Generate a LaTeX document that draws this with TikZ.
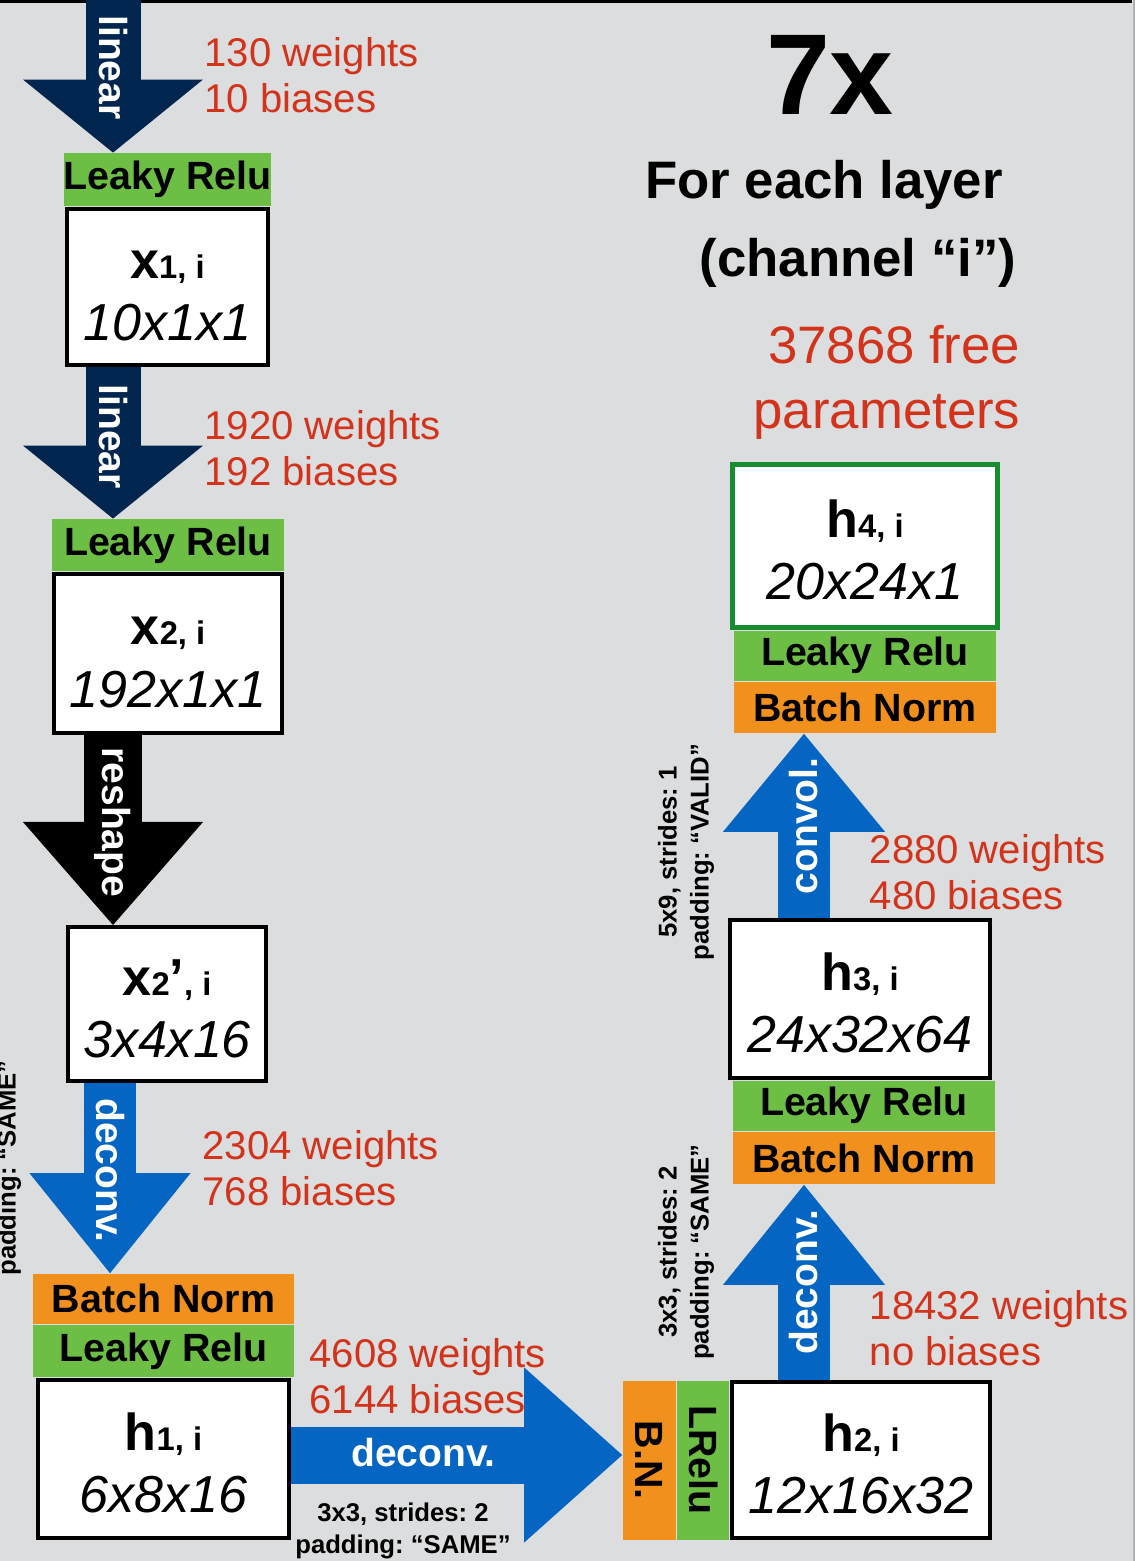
\documentclass[tikz,border=0pt]{standalone}
\usepackage{fontspec}
\setmainfont{Liberation Sans}
\usetikzlibrary{positioning,calc,arrows.meta}

\newdimen\pix \pix=0.01cm
\definecolor{bggray}{HTML}{DCDDDF}
\definecolor{lrgreen}{HTML}{6DBE45}
\definecolor{bnorange}{HTML}{F2901E}
\definecolor{wred}{HTML}{D2331A}
\definecolor{navy}{HTML}{002650}
\definecolor{convblue}{HTML}{0565C2}
\definecolor{boxgreen}{HTML}{188C30}

\newcommand{\vsym}[1]{{\fontsize{14.8}{16}\selectfont\bfseries #1}}
\newcommand{\vsub}[1]{{\fontsize{9.3}{10}\selectfont\bfseries #1}}
\newcommand{\vdim}[1]{{\itshape #1}}

\begin{document}
\frenchspacing
\begin{tikzpicture}[x=0.01cm, y=-0.01cm,
    layer/.style={draw, line width=4\pix, fill=white, align=center, inner sep=0pt,
      font=\fontsize{14.8}{17.8}\selectfont},
    bar/.style={inner sep=0pt, font=\fontsize{11.2}{12}\selectfont\bfseries},
    relu/.style={bar, fill=lrgreen},
    bnorm/.style={bar, fill=bnorange},
    note/.style={text=wred, align=left, inner sep=0pt, anchor=west,
      font=\fontsize{11.4}{13.1}\selectfont},
    opts/.style={align=center, inner sep=0pt, font=\fontsize{7.3}{9.1}\selectfont\bfseries},
    flow/.style n args={3}{line width=#1, -{Triangle[width=#2,length=#3,line width=0pt]}},
    flowtext/.style={text=white, inner sep=0pt, font=\fontsize{11.1}{12}\selectfont\bfseries}]

  % background
  \useasboundingbox (0,0) rectangle (1135,1561);
  \clip (0,0) rectangle (1135,1561);
  \fill[bggray] (0,0) rectangle (1135,1561);
  \draw[line width=3\pix] (0,2) -- (1132,2);
  \draw[black!30, line width=2\pix] (1134,0) -- (1134,1561);

  % left column
  \node[layer, minimum width=201\pix, minimum height=156\pix] (x1) at (167.5,287)
    {\rule{0pt}{13pt}\vsym{x}\vsub{1, i}\\\vdim{10x1x1}};
  \node[relu, minimum width=205\pix, minimum height=53\pix, anchor=south] (lr1) at (x1.north) {Leaky Relu};

  \node[layer, minimum width=228\pix, minimum height=159\pix] (x2) at (168,653.5)
    {\rule{0pt}{13pt}\vsym{x}\vsub{2, i}\\\vdim{192x1x1}};
  \node[relu, minimum width=232\pix, minimum height=52\pix, anchor=south] (lr2) at (x2.north) {Leaky Relu};

  \node[layer, minimum width=198\pix, minimum height=154\pix] (x2p) at (167,1004)
    {\rule{0pt}{13pt}\vsym{x}\vsub{2}\vsym{’}\vsub{, i}\\\vdim{3x4x16}};

  \node[layer, minimum width=251\pix, minimum height=158\pix] (h1) at (163.5,1459)
    {\rule{0pt}{13pt}\vsym{h}\vsub{1, i}\\\vdim{6x8x16}};
  \node[relu, minimum width=261\pix, minimum height=52\pix, anchor=south] (lr3) at (h1.north) {Leaky Relu};
  \node[bnorm, minimum width=261\pix, minimum height=50\pix, anchor=south] (bn1) at (lr3.north) {Batch Norm};

  % bottom right
  \node[layer, minimum width=258\pix, minimum height=156\pix] (h2) at (861,1460)
    {\rule{0pt}{13pt}\vsym{h}\vsub{2, i}\\\vdim{12x16x32}};
  \node[relu, minimum width=52\pix, minimum height=159\pix, anchor=east] (lrv) at (h2.west) {\rotatebox{-90}{LRelu}};
  \node[bnorm, minimum width=53\pix, minimum height=159\pix, anchor=east] (bnv) at (lrv.west) {\rotatebox{-90}{B.N.}};

  % right column
  \node[layer, minimum width=260\pix, minimum height=158\pix] (h3) at (860,999)
    {\rule{0pt}{13pt}\vsym{h}\vsub{3, i}\\\vdim{24x32x64}};
  \node[relu, minimum width=262\pix, minimum height=50\pix, anchor=north] (lr4) at ([xshift=4\pix]h3.south) {Leaky Relu};
  \node[bnorm, minimum width=262\pix, minimum height=52\pix, anchor=north] (bn3) at (lr4.south) {Batch Norm};

  \node[layer, draw=boxgreen, line width=5\pix, minimum width=265\pix, minimum height=163\pix] (h4) at (865,546)
    {\rule{0pt}{13pt}\vsym{h}\vsub{4, i}\\\vdim{20x24x1}};
  \node[relu, minimum width=262\pix, minimum height=50\pix, anchor=north] (lr5) at (h4.south) {Leaky Relu};
  \node[bnorm, minimum width=262\pix, minimum height=51\pix, anchor=north] (bn4) at (lr5.south) {Batch Norm};

  % arrows
  \coordinate (a1) at (113,-5);
  \draw[navy, flow={55\pix}{1.8cm}{0.73cm}] (a1) -- node[flowtext, rotate=-90, pos=0.46] {linear} (a1 |- lr1.north);
  \coordinate (a2) at ([xshift=48\pix]x1.south west);
  \draw[navy, flow={55\pix}{1.8cm}{0.73cm}] (a2) -- node[flowtext, rotate=-90, pos=0.46] {linear} (a2 |- lr2.north);
  \coordinate (a3) at ([xshift=61\pix]x2.south west);
  \draw[black, flow={58\pix}{1.8cm}{1.03cm}] (a3) -- node[flowtext, rotate=-90, pos=0.46] {reshape} (a3 |- x2p.north);
  \coordinate (a4) at ([xshift=44\pix]x2p.south west);
  \draw[convblue, flow={52\pix}{1.61cm}{1cm}] (a4) -- node[flowtext, rotate=-90, pos=0.46] {deconv.} (a4 |- bn1.north);
  \coordinate (a5) at ([yshift=4\pix]h1.east);
  \draw[convblue, flow={57\pix}{1.75cm}{0.98cm}] (a5) -- node[flowtext, pos=0.4, yshift=2\pix] {deconv.} (a5 -| bnv.west);
  \coordinate (a6) at ([xshift=74\pix]h2.north west);
  \draw[convblue, flow={52\pix}{1.62cm}{1cm}] (a6) -- node[flowtext, rotate=90, pos=0.5] {deconv.} (a6 |- bn3.south);
  \coordinate (a7) at ([xshift=76\pix]h3.north west);
  \draw[convblue, flow={52\pix}{1.62cm}{0.98cm}] (a7) -- node[flowtext, rotate=90, pos=0.5] {convol.} (a7 |- bn4.south);

  % parameter counts
  \node[note] (n1) at (204,75) {130 weights\\10 biases};
  \node[note] (n2) at (204,448) {1920 weights\\192 biases};
  \node[note] (n3) at (202,1168) {2304 weights\\768 biases};
  \node[note] (n4) at (309,1376) {4608 weights\\6144 biases};
  \node[note] (n5) at (869,1328) {18432 weights\\no biases};
  \node[note] (n6) at (869,872) {2880 weights\\480 biases};

  % layer options
  \node[opts] (o1) at (403,1531) {3x3, strides: 2\\padding: “SAME”};
  \node[opts, rotate=90] (o2) at (686,852) {5x9, strides: 1\\padding: “VALID”};
  \node[opts, rotate=90] (o3) at (686,1252) {3x3, strides: 2\\padding: “SAME”};
  \node[opts, rotate=90] (o4) at (9,1168) {padding: “SAME”};

  % headline
  \node[font=\fontsize{32.7}{34}\selectfont\bfseries, inner sep=0pt] (rep) at (830,75) {7x};
  \node[font=\fontsize{15}{17}\selectfont\bfseries, inner sep=0pt] (each) at (824,185) {For each layer};
  \node[font=\fontsize{15}{17}\selectfont\bfseries, inner sep=0pt] (chan) at (858,263) {(channel “i”)};
  \node[text=wred, align=right, anchor=east, inner sep=0pt, font=\fontsize{15}{18.5}\selectfont] (free) at (1021,382) {37868 free\\parameters};
\end{tikzpicture}
\end{document}
